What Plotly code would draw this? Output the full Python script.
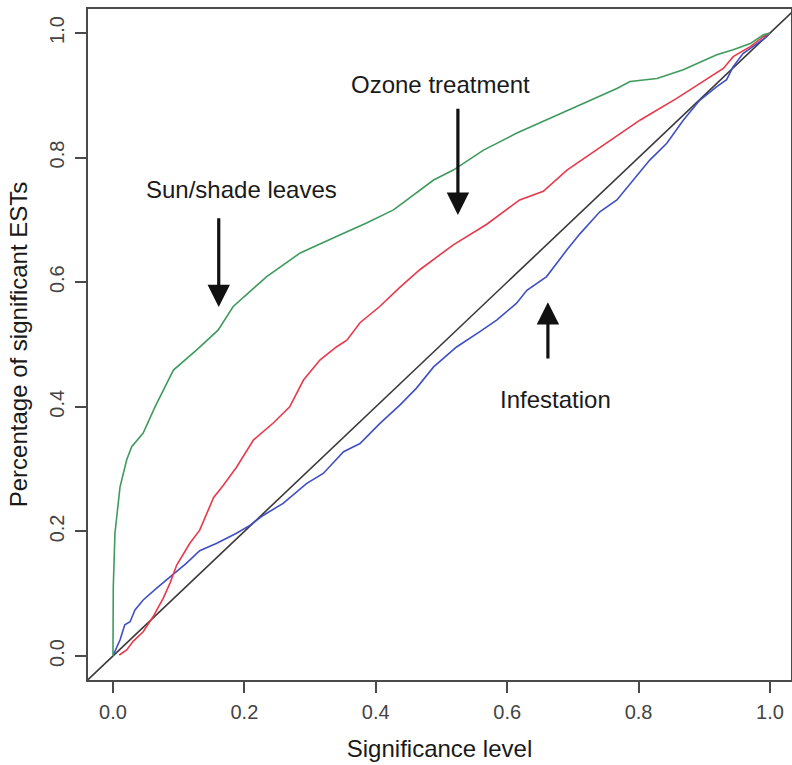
import plotly.graph_objects as go

# Sun/shade leaves (green)
sun_x = [0.0, 0.0005, 0.003, 0.0107, 0.0209, 0.0285, 0.046, 0.064, 0.092, 0.127, 0.160, 0.183, 0.234, 0.285,
         0.346, 0.386, 0.427, 0.488, 0.518, 0.564, 0.614, 0.665, 0.716, 0.767, 0.787, 0.828, 0.868, 0.919,
         0.944, 0.970, 0.990, 1.0]
sun_y = [0.0, 0.111, 0.197, 0.271, 0.315, 0.336, 0.358, 0.400, 0.459, 0.491, 0.523, 0.561, 0.609, 0.647,
         0.676, 0.695, 0.716, 0.764, 0.780, 0.812, 0.839, 0.863, 0.887, 0.911, 0.922, 0.927, 0.941, 0.965,
         0.973, 0.983, 0.997, 1.0]

# Ozone treatment (red)
ozone_x = [0.0096, 0.0209, 0.031, 0.046, 0.061, 0.0766, 0.0868, 0.097, 0.117, 0.132, 0.153, 0.168, 0.188,
           0.214, 0.244, 0.269, 0.290, 0.315, 0.340, 0.356, 0.376, 0.406, 0.437, 0.467, 0.518, 0.569, 0.619,
           0.655, 0.691, 0.751, 0.802, 0.858, 0.893, 0.929, 0.944, 0.970, 0.990, 1.0]
ozone_y = [0.0016, 0.0096, 0.024, 0.039, 0.063, 0.093, 0.117, 0.146, 0.181, 0.202, 0.254, 0.274, 0.303,
           0.347, 0.374, 0.400, 0.443, 0.475, 0.496, 0.507, 0.535, 0.561, 0.592, 0.620, 0.660, 0.693, 0.732,
           0.746, 0.780, 0.823, 0.860, 0.895, 0.919, 0.943, 0.962, 0.978, 0.994, 1.0]

# Infestation (blue)
inf_x = [0.0005, 0.0107, 0.018, 0.026, 0.0335, 0.046, 0.0665, 0.082, 0.097, 0.112, 0.132, 0.158, 0.188,
         0.209, 0.229, 0.259, 0.295, 0.320, 0.351, 0.376, 0.406, 0.437, 0.462, 0.488, 0.523, 0.559, 0.584,
         0.614, 0.630, 0.660, 0.675, 0.691, 0.711, 0.741, 0.767, 0.792, 0.817, 0.843, 0.868, 0.893, 0.919,
         0.934, 0.944, 0.959, 0.980, 0.995, 1.0]
inf_y = [0.0016, 0.0257, 0.050, 0.055, 0.074, 0.090, 0.109, 0.122, 0.136, 0.149, 0.169, 0.181, 0.197,
         0.210, 0.226, 0.245, 0.277, 0.293, 0.328, 0.341, 0.373, 0.403, 0.430, 0.464, 0.496, 0.521, 0.539,
         0.566, 0.587, 0.609, 0.630, 0.652, 0.678, 0.713, 0.732, 0.764, 0.796, 0.823, 0.860, 0.892, 0.914,
         0.925, 0.946, 0.967, 0.983, 0.994, 1.0]

# Reference diagonal y = x
ref_x = [-0.05, 1.05]
ref_y = [-0.05, 1.05]

x_ticks = [0.0, 0.2, 0.4, 0.6, 0.8, 1.0]
x_tick_labels = ["0.0", "0.2", "0.4", "0.6", "0.8", "1.0"]
y_ticks = [0.0, 0.2, 0.4, 0.6, 0.8, 1.0]
y_tick_labels = ["0.0", "0.2", "0.4", "0.6", "0.8", "1.0"]

FONT = "Liberation Sans, Arial, sans-serif"

fig = go.Figure()
fig.add_trace(go.Scatter(x=ref_x, y=ref_y, mode="lines", line=dict(color="#3a3a3a", width=1.6),
                         showlegend=False, hoverinfo="skip"))
fig.add_trace(go.Scatter(x=inf_x, y=inf_y, mode="lines", line=dict(color="#3f4fc4", width=1.6),
                         name="Infestation", showlegend=False))
fig.add_trace(go.Scatter(x=ozone_x, y=ozone_y, mode="lines", line=dict(color="#e8394a", width=1.6),
                         name="Ozone treatment", showlegend=False))
fig.add_trace(go.Scatter(x=sun_x, y=sun_y, mode="lines", line=dict(color="#3e9b5e", width=1.6),
                         name="Sun/shade leaves", showlegend=False))

# Text labels
for txt, tx, ty in [("Sun/shade leaves", 0.195, 0.748), ("Ozone treatment", 0.499, 0.917),
                    ("Infestation", 0.673, 0.411)]:
    fig.add_annotation(x=tx, y=ty, text=txt, showarrow=False,
                       font=dict(family=FONT, size=24, color="#1a1a1a"))

# Arrows (tip at x,y; tail at ax,ay)
for tipx, tipy, taily in [(0.161, 0.560, 0.705), (0.525, 0.708, 0.881), (0.662, 0.568, 0.475)]:
    fig.add_annotation(x=tipx, y=tipy, ax=tipx, ay=taily, xref="x", yref="y", axref="x", ayref="y",
                       text="", showarrow=True, arrowhead=2, arrowsize=1.4, arrowwidth=3.2,
                       arrowcolor="#111111")

axis_common = dict(showgrid=False, zeroline=False, showline=True, linecolor="#4a4a4a", linewidth=2,
                   mirror=True, ticks="outside", ticklen=11, tickwidth=1.5, tickcolor="#4a4a4a",
                   automargin=False,
                   tickfont=dict(family=FONT, size=20, color="#444444"))

fig.update_xaxes(range=[-0.038, 1.032], tickvals=x_ticks, ticktext=x_tick_labels,
                 title=dict(text="Significance level", font=dict(family=FONT, size=24, color="#1a1a1a"),
                            standoff=18),
                 ticklabelstandoff=2, **axis_common)
fig.update_yaxes(range=[-0.0385, 1.0385], tickvals=y_ticks, ticktext=y_tick_labels, tickangle=-90,
                 title=dict(text="Percentage of significant ESTs",
                            font=dict(family=FONT, size=24, color="#1a1a1a"), standoff=12),
                 ticklabelstandoff=3, **axis_common)

fig.update_layout(width=792, height=765, margin=dict(l=88, r=1, t=9, b=85),
                  plot_bgcolor="white", paper_bgcolor="white")

fig.write_html("out.html", config={"displayModeBar": False},
               post_script="document.body.style.margin='0';document.body.style.overflow='hidden';")
